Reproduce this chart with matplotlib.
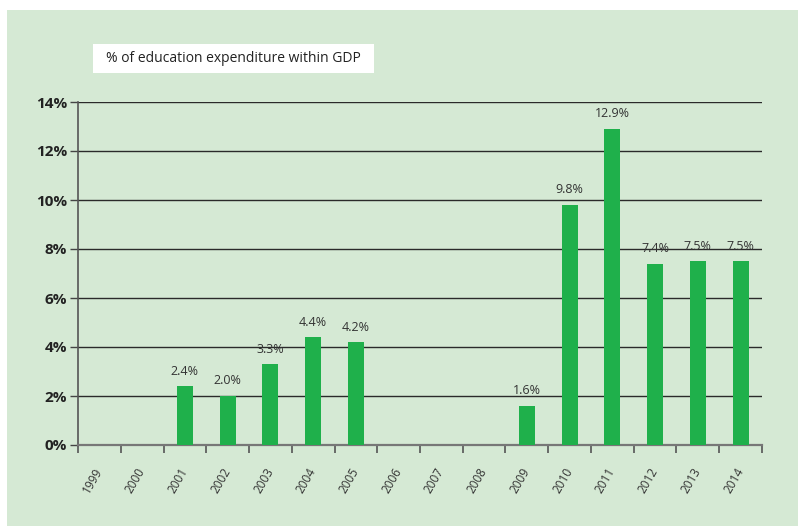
import numpy as np
import matplotlib
matplotlib.use("Agg")
from matplotlib import pyplot as plt
from matplotlib.patches import Rectangle

plt.rcParams['font.family'] = ['Open Sans', 'DejaVu Sans']

# share of education spending in GDP (%), nan = no data
years = ['1999', '2000', '2001', '2002', '2003', '2004', '2005', '2006',
         '2007', '2008', '2009', '2010', '2011', '2012', '2013', '2014']
values = [np.nan, np.nan, 2.4, 2.0, 3.3, 4.4, 4.2, np.nan,
          np.nan, np.nan, 1.6, 9.8, 12.9, 7.4, 7.5, 7.5]
y_ticks = [0, 2, 4, 6, 8, 10, 12, 14]

bg = '#d5e9d4'
bar_col = '#1fb04b'
txt_col = '#333333'

W, H = 798, 526
fig = plt.figure(figsize=(W / 100, H / 100), dpi=100, facecolor='white')

# green panel behind everything
fig.patches.append(Rectangle((7 / W, 0), 1 - 7 / W, 1 - 10 / H, transform=fig.transFigure,
                             facecolor=bg, edgecolor='none', zorder=-2))
# white title box
fig.patches.append(Rectangle((93 / W, 1 - 73 / H), (374 - 93) / W, 29 / H,
                             transform=fig.transFigure, facecolor='white',
                             edgecolor='none', zorder=-1))
fig.text((93 + 374) / 2 / W, 1 - 58.5 / H, '% of education expenditure within GDP',
         ha='center', va='center', fontsize=10, color='#222222')

ax = fig.add_axes([78 / W, 1 - 445 / H, (762 - 78) / W, (445 - 102) / H])
ax.set_facecolor('none')

x = np.arange(len(years))
ax.bar(x, values, width=0.38, color=bar_col, zorder=3)
for xi, v in zip(x, values):
    if np.isnan(v):
        continue
    ax.text(xi, v + 0.35, f'{v:.1f}%', ha='center', va='bottom',
            fontsize=9, color=txt_col, zorder=4)

ax.set_xlim(-0.5, len(years) - 0.5)
ax.set_ylim(0, 14)

ax.set_yticks(y_ticks)
ax.set_yticklabels([f'{t}%' for t in y_ticks], fontweight='bold', fontsize=11,
                   color='#222222')
ax.tick_params(axis='y', length=6, width=1, color='#444444', pad=2)
ax.yaxis.grid(True, color='#2a2a2a', linewidth=1.0, zorder=1)
ax.set_axisbelow(True)

# year labels centred on bars, tick marks on category edges
ax.set_xticks(x)
ax.set_xticklabels(years, rotation=60, ha='right', va='center', rotation_mode='anchor',
                   fontsize=8.5, color=txt_col)
ax.tick_params(axis='x', which='major', length=0, pad=17)
ax.set_xticks(np.arange(len(years) + 1) - 0.5, minor=True)
ax.tick_params(axis='x', which='minor', length=6, width=1.2, color='#555555')

for side in ['top', 'right']:
    ax.spines[side].set_visible(False)
ax.spines['left'].set_color('#555555')
ax.spines['left'].set_linewidth(1.2)
ax.spines['bottom'].set_color('#777777')
ax.spines['bottom'].set_linewidth(1.6)

fig.savefig('out.png', dpi=100, facecolor='white')
